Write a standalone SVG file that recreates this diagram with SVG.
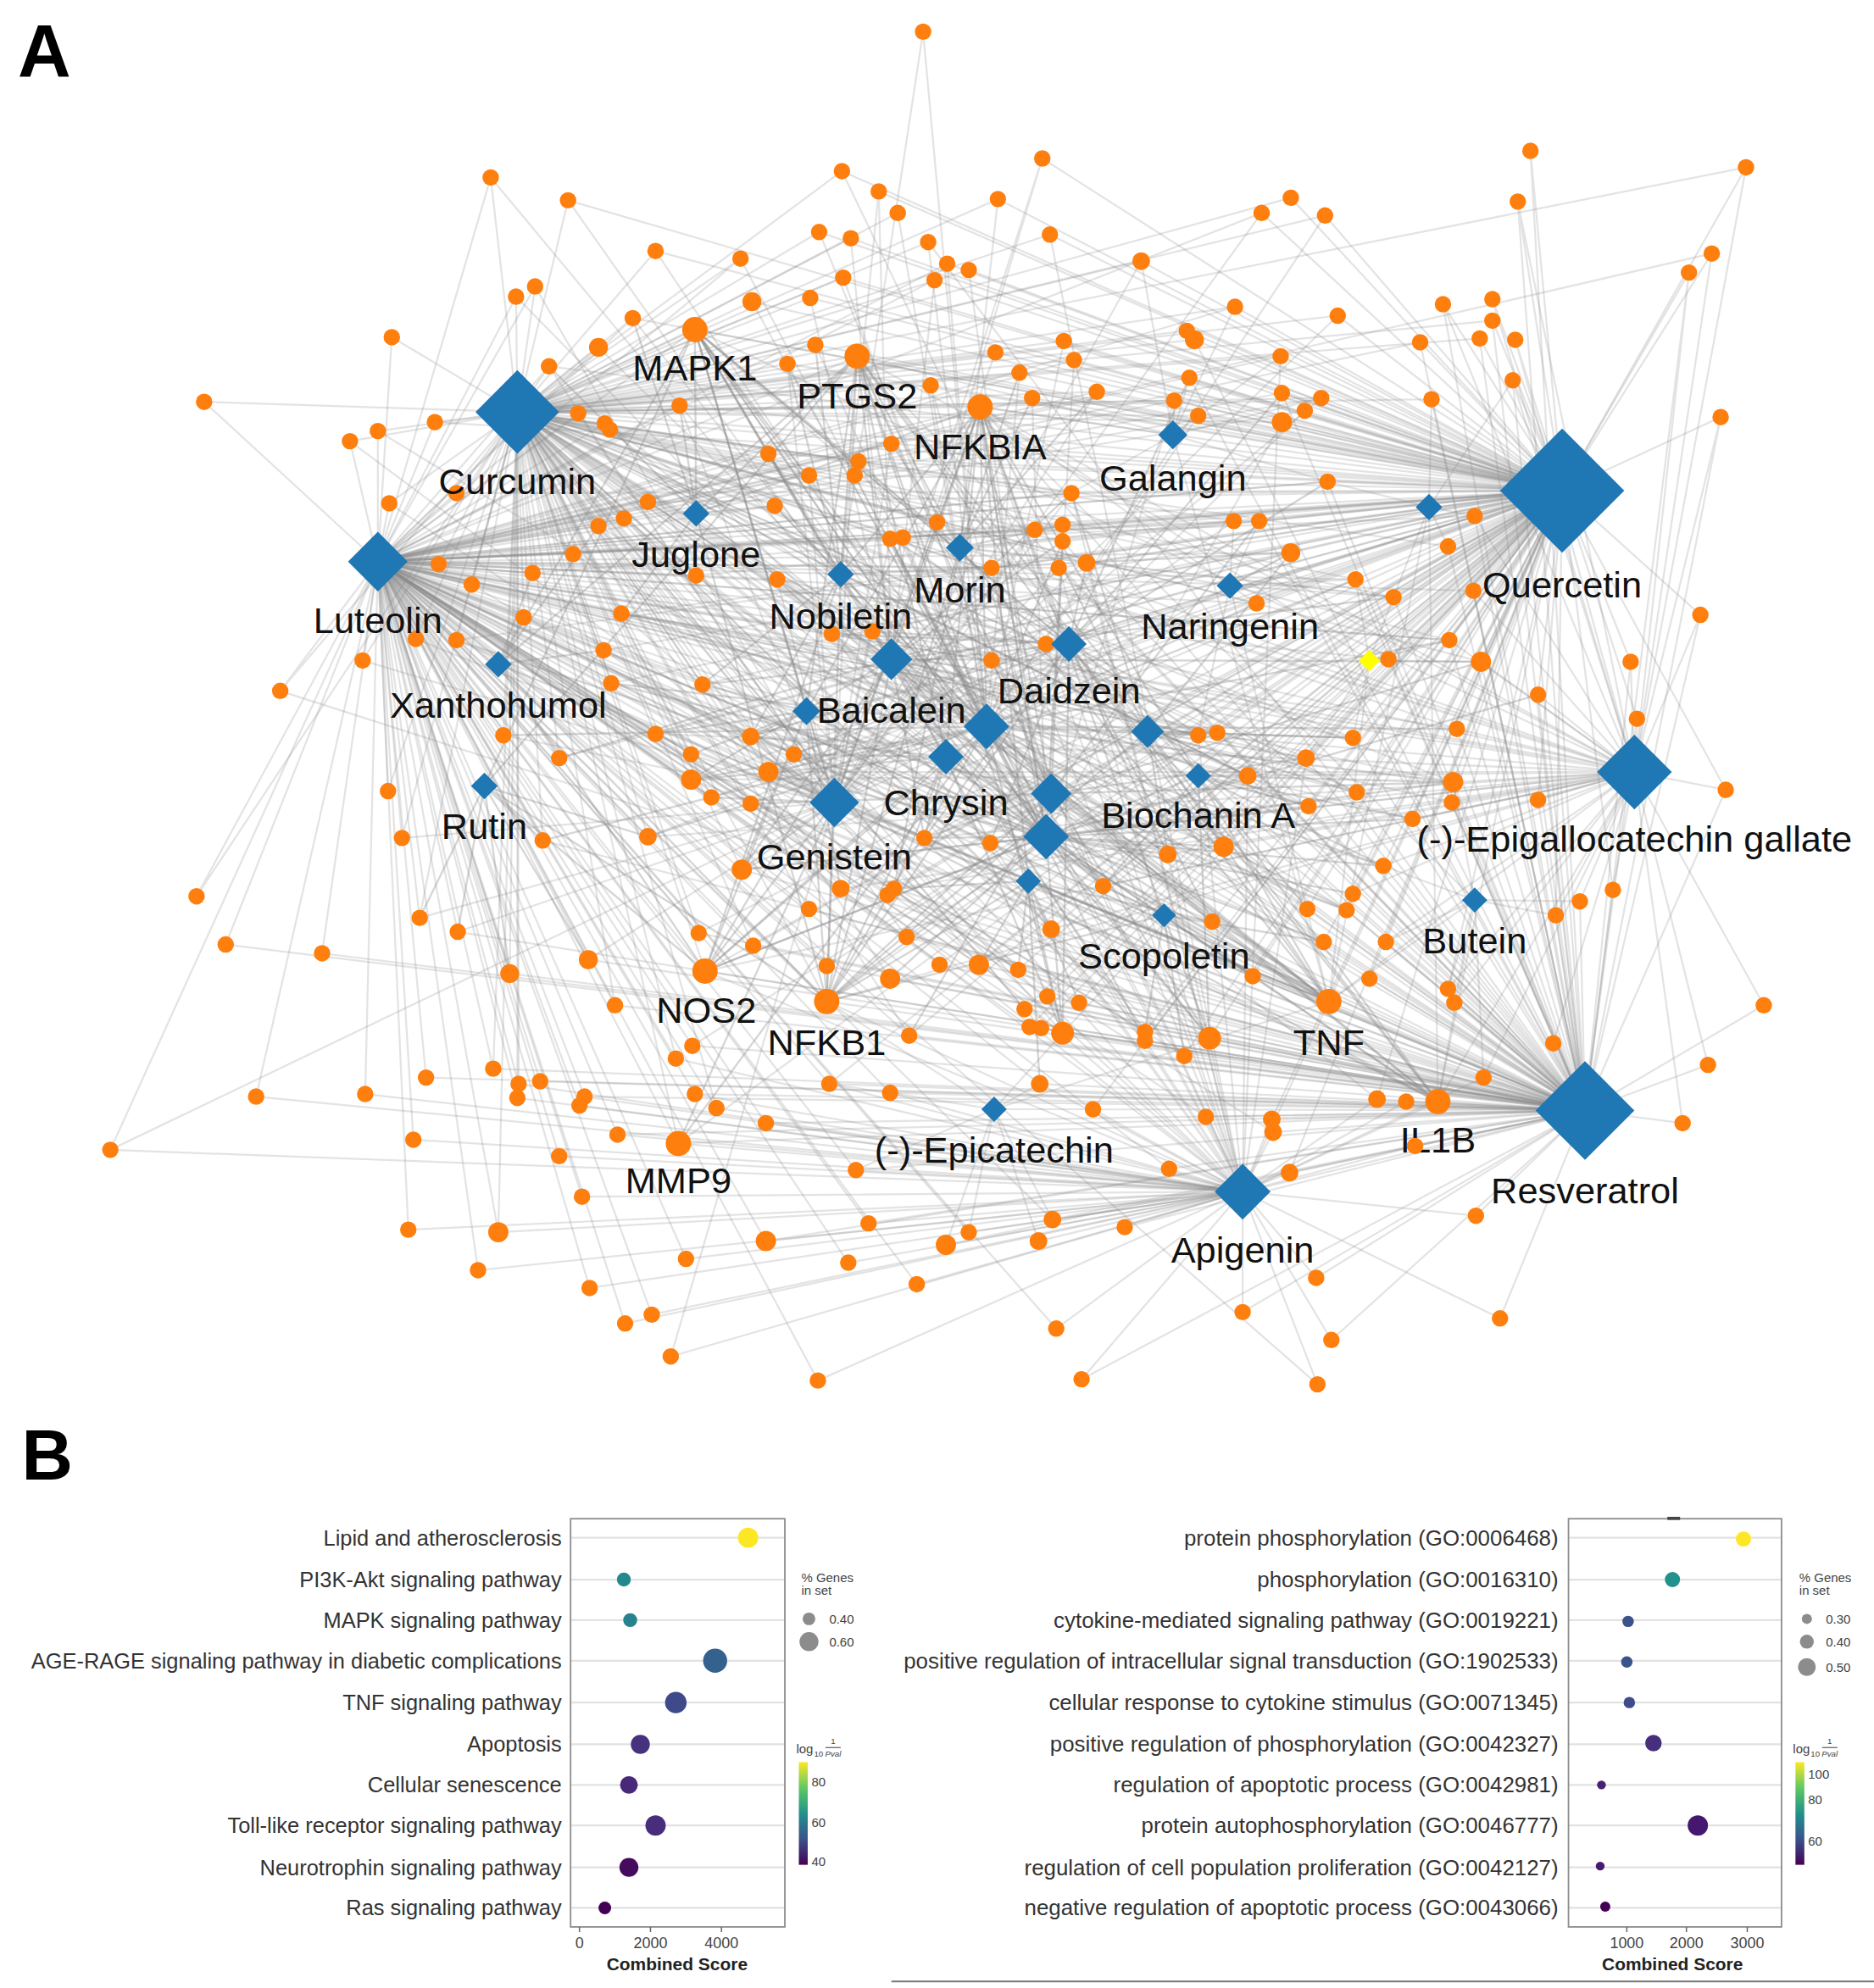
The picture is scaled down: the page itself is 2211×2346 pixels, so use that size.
<svg xmlns="http://www.w3.org/2000/svg" width="2211" height="2346" viewBox="0 0 2211 2346">
<defs>
<style>
.e path{fill:none;stroke:#8c8c8c;stroke-opacity:.24;stroke-width:1.5;stroke-linejoin:round}
.e path.d{stroke-opacity:.36;stroke-width:1.6}
.gn circle{fill:#ff7f0e}
.cp path{fill:#1f77b4}
.lb{font-family:"Liberation Sans",Arial,sans-serif;font-size:29px;fill:#111;text-anchor:middle}
.t{font-family:"Liberation Sans",Arial,sans-serif;fill:#333}
.tl{font-size:17px;text-anchor:end}
.tr{font-size:17.3px;text-anchor:end}
.tk{font-size:12px;text-anchor:middle;fill:#444}
.sm{font-size:10px;fill:#444}
.grid line{stroke:#e2e2e2;stroke-width:1.5}
.box{fill:none;stroke:#8c8c8c;stroke-width:1.2}
</style>
<linearGradient id="vir" x1="0" y1="1" x2="0" y2="0">
<stop offset="0" stop-color="#440154"/><stop offset=".25" stop-color="#3b528b"/><stop offset=".5" stop-color="#21918c"/><stop offset=".75" stop-color="#5ec962"/><stop offset="1" stop-color="#fde725"/>
</linearGradient>
</defs>
<rect width="2211" height="2346" fill="#fff"/>
<g transform="scale(1.496)">
<text x="14" y="60" font-family="Liberation Sans,Arial,sans-serif" font-weight="bold" font-size="58" fill="#000">A</text>
<g id="connectors" class="e">
<path d="M663 453L728 25 778 573"/>
<path d="M408 325L387 140 298 443 387 140 703 520"/>
<path d="M408 325L448 158 1232 387 448 158 703 520"/>
<path d="M408 325L664 135 843 508 664 135 1232 387"/>
<path d="M703 520L693 151 1232 387 693 151 663 453"/>
<path d="M778 573L708 168 408 325"/>
<path d="M1232 387L822 125 703 520 822 125 658 633"/>
<path d="M757 432L787 157 1232 387 787 157 408 325"/>
<path d="M1232 387L1207 119 1250 876"/>
<path d="M1232 387L1377 132 408 325 1377 132 1289 609"/>
<path d="M1232 387L1197 159 1289 609 1197 159 1250 876"/>
<path d="M1232 387L1018 156 408 325"/>
<path d="M1232 387L995 168 658 633 995 168 298 443"/>
<path d="M1232 387L1045 170 778 573 1045 170 408 325"/>
<path d="M408 325L517 198 825 660 517 198 1232 387"/>
<path d="M408 325L584 204 778 573 584 204 298 443"/>
<path d="M408 325L646 183 1232 387 646 183 829 626"/>
<path d="M703 520L671 188 1232 387 671 188 408 325"/>
<path d="M408 325L732 191 778 573 732 191 1250 876"/>
<path d="M1232 387L828 185 408 325 828 185 980 940"/>
<path d="M1232 387L900 206 408 325 900 206 658 633"/>
<path d="M778 573L747 208 1232 387 747 208 298 443"/>
<path d="M408 325L764 213 825 660 764 213 1232 387"/>
<path d="M703 520L737 221 1232 387 737 221 298 443"/>
<path d="M408 325L665 219 825 660 665 219 1232 387"/>
<path d="M408 325L407 234 298 443 407 234 825 660"/>
<path d="M408 325L422 226 298 443 422 226 658 633"/>
<path d="M1232 387L1332 215 1250 876 1332 215 1289 609"/>
<path d="M1232 387L1350 200 298 443 1350 200 1289 609"/>
<path d="M408 325L593 238 1232 387 593 238 778 573"/>
<path d="M408 325L499 251 825 660 499 251 1232 387 499 251 298 443"/>
<path d="M408 325L548 260 298 443 548 260 1232 387 548 260 1250 876 548 260 1289 609 548 260 825 660 548 260 658 633 548 260 843 508"/>
<path d="M408 325L472 274 298 443 472 274 778 573"/>
<path d="M408 325L433 289 298 443 433 289 658 633 433 289 1232 387"/>
<path d="M408 325L309 266 298 443"/>
<path d="M408 325L621 287 825 660 621 287 1232 387 621 287 658 633"/>
<path d="M408 325L643 272 1232 387 643 272 778 573"/>
<path d="M408 325L676 281 298 443 676 281 1232 387 676 281 1250 876 676 281 1289 609 676 281 980 940 676 281 658 633 676 281 905 577"/>
<path d="M408 325L639 235 1232 387 639 235 703 520"/>
<path d="M408 325L734 304 778 573 734 304 1232 387 734 304 829 626"/>
<path d="M1232 387L785 278 408 325 785 278 658 633"/>
<path d="M1232 387L839 269 408 325 839 269 778 573"/>
<path d="M1232 387L847 284 298 443 847 284 825 660"/>
<path d="M1232 387L936 261 408 325"/>
<path d="M1232 387L942 268 408 325 942 268 1250 876"/>
<path d="M1232 387L974 242 408 325 974 242 298 443"/>
<path d="M1232 387L1055 249 408 325 1055 249 658 633"/>
<path d="M1232 387L1138 240 1250 876 1138 240 1289 609"/>
<path d="M1232 387L1177 236 1289 609"/>
<path d="M1232 387L1177 253 1250 876 1177 253 408 325"/>
<path d="M1232 387L1195 268 1289 609"/>
<path d="M1232 387L1167 267 1250 876 1167 267 408 325"/>
<path d="M1232 387L1120 270 298 443 1120 270 1250 876"/>
<path d="M408 325L161 317 298 443"/>
<path d="M408 325L276 348 298 443 276 348 658 633"/>
<path d="M408 325L298 340 298 443 298 340 825 660"/>
<path d="M408 325L343 333 298 443 343 333 1232 387"/>
<path d="M408 325L456 326 298 443 456 326 658 633 456 326 1232 387"/>
<path d="M408 325L477 334 298 443 477 334 1250 876"/>
<path d="M408 325L481 339 778 573 481 339 1289 609"/>
<path d="M408 325L536 320 298 443 536 320 658 633 536 320 1232 387"/>
<path d="M408 325L773 321 298 443 773 321 1232 387 773 321 1250 876 773 321 1289 609 773 321 980 940 773 321 658 633 773 321 825 660"/>
<path d="M1232 387L804 294 408 325 804 294 778 573"/>
<path d="M1232 387L814 314 298 443 814 314 825 660"/>
<path d="M1232 387L865 309 408 325 865 309 658 633"/>
<path d="M1232 387L926 316 408 325 926 316 825 660"/>
<path d="M1232 387L938 298 1250 876"/>
<path d="M1232 387L945 328 408 325 945 328 778 573"/>
<path d="M1232 387L1010 281 408 325 1010 281 980 940"/>
<path d="M1232 387L1011 310 298 443 1011 310 1250 876"/>
<path d="M1232 387L1042 314 408 325 1042 314 658 633"/>
<path d="M1232 387L1029 324 778 573 1029 324 298 443"/>
<path d="M1232 387L1011 333 408 325 1011 333 825 660"/>
<path d="M1232 387L1193 300 1289 609 1193 300 1250 876"/>
<path d="M1232 387L1129 315 408 325 1129 315 1250 876"/>
<path d="M1232 387L1357 329 1289 609 1357 329 1250 876"/>
<path d="M298 443L307 397 408 325 307 397 658 633"/>
<path d="M298 443L360 389 408 325 360 389 1232 387"/>
<path d="M408 325L511 396 298 443 511 396 778 573 511 396 1232 387"/>
<path d="M298 443L492 409 408 325 492 409 825 660"/>
<path d="M298 443L472 415 408 325 472 415 658 633 472 415 1250 876"/>
<path d="M408 325L606 358 298 443 606 358 1232 387 606 358 825 660"/>
<path d="M408 325L703 350 1232 387 703 350 658 633 703 350 298 443"/>
<path d="M408 325L677 364 298 443 677 364 1250 876 677 364 1232 387"/>
<path d="M408 325L674 375 1232 387 674 375 825 660"/>
<path d="M408 325L638 375 298 443 638 375 658 633"/>
<path d="M408 325L611 399 298 443 611 399 778 573 611 399 1250 876"/>
<path d="M1232 387L845 389 408 325 845 389 658 633 845 389 298 443"/>
<path d="M1232 387L1047 380 298 443 1047 380 1250 876"/>
<path d="M1232 387L973 411 298 443 973 411 408 325 973 411 658 633"/>
<path d="M1232 387L993 411 1250 876 993 411 298 443"/>
<path d="M1232 387L1018 436 298 443 1018 436 658 633"/>
<path d="M1232 387L1163 407 1289 609 1163 407 1250 876 1163 407 298 443"/>
<path d="M1232 387L1142 431 1250 876 1142 431 408 325"/>
<path d="M298 443L346 445 408 325"/>
<path d="M298 443L372 461 408 325 372 461 658 633"/>
<path d="M298 443L420 452 408 325 420 452 1232 387"/>
<path d="M298 443L452 437 408 325 452 437 825 660 452 437 1232 387"/>
<path d="M298 443L490 484 408 325 490 484 658 633 490 484 1232 387"/>
<path d="M298 443L549 454 408 325 549 454 825 660 549 454 1232 387"/>
<path d="M298 443L613 457 408 325 613 457 1250 876 613 457 658 633"/>
<path d="M408 325L702 425 1232 387 702 425 658 633 702 425 298 443"/>
<path d="M408 325L712 424 1232 387 712 424 1250 876 712 424 825 660"/>
<path d="M408 325L739 412 298 443 739 412 1232 387"/>
<path d="M1232 387L782 448 408 325 782 448 658 633 782 448 298 443"/>
<path d="M1232 387L816 418 408 325 816 418 298 443 816 418 658 633"/>
<path d="M1232 387L838 414 298 443 838 414 825 660"/>
<path d="M1232 387L838 427 408 325 838 427 1250 876"/>
<path d="M1232 387L835 448 298 443 835 448 658 633 835 448 1250 876"/>
<path d="M1232 387L857 444 408 325 857 444 980 940"/>
<path d="M1232 387L1069 457 1250 876 1069 457 298 443 1069 457 658 633"/>
<path d="M1232 387L1099 471 1250 876 1099 471 408 325"/>
<path d="M1232 387L1162 466 1289 609 1162 466 1250 876"/>
<path d="M1232 387L1341 485 1289 609 1341 485 1250 876"/>
<path d="M298 443L286 521 408 325 286 521 658 633"/>
<path d="M298 443L328 504 408 325 328 504 1250 876"/>
<path d="M298 443L360 505 408 325 360 505 1232 387 360 505 658 633"/>
<path d="M298 443L413 487 408 325 413 487 825 660"/>
<path d="M298 443L476 513 408 325 476 513 658 633 476 513 1232 387"/>
<path d="M408 325L656 500 298 443 656 500 1232 387 656 500 1250 876"/>
<path d="M408 325L688 498 298 443 688 498 1232 387 688 498 658 633"/>
<path d="M1232 387L782 521 408 325 782 521 298 443 782 521 1250 876"/>
<path d="M1232 387L825 508 408 325 825 508 298 443"/>
<path d="M1232 387L1143 505 1250 876 1143 505 1289 609 1143 505 298 443"/>
<path d="M1232 387L1168 522 1289 609 1168 522 1250 876 1168 522 408 325"/>
<path d="M1232 387L1095 520 1250 876 1095 520 298 443"/>
<path d="M1232 387L1286 522 1289 609 1286 522 1250 876"/>
<path d="M1232 387L991 476 298 443 991 476 408 325"/>
<path d="M298 443L221 545 408 325 221 545 1250 876"/>
<path d="M298 443L482 539 408 325 482 539 658 633 482 539 1232 387"/>
<path d="M298 443L554 540 408 325 554 540 1232 387 554 540 1250 876"/>
<path d="M298 443L397 580 408 325 397 580 658 633"/>
<path d="M298 443L517 579 408 325 517 579 1232 387 517 579 1250 876"/>
<path d="M298 443L592 581 408 325 592 581 1232 387 592 581 658 633"/>
<path d="M298 443L626 595 1232 387 626 595 1250 876 626 595 408 325"/>
<path d="M298 443L545 595 408 325 545 595 658 633"/>
<path d="M298 443L545 615 408 325 545 615 1232 387 545 615 1250 876"/>
<path d="M298 443L606 609 408 325 606 609 1232 387 606 609 1250 876"/>
<path d="M298 443L441 598 408 325 441 598 1232 387"/>
<path d="M298 443L306 624 408 325"/>
<path d="M298 443L317 661 408 325 317 661 658 633"/>
<path d="M298 443L428 663 408 325 428 663 1250 876"/>
<path d="M298 443L561 629 408 325 561 629 1232 387"/>
<path d="M298 443L592 634 408 325 592 634 1250 876 592 634 980 940"/>
<path d="M298 443L511 660 408 325 511 660 1232 387 511 660 1289 609"/>
<path d="M298 443L585 686 408 325 585 686 1232 387 585 686 1250 876 585 686 1289 609"/>
<path d="M298 443L663 701 1232 387 663 701 1250 876 663 701 408 325"/>
<path d="M298 443L705 701 408 325 705 701 1232 387 705 701 980 940"/>
<path d="M298 443L700 706 1232 387 700 706 1250 876"/>
<path d="M298 443L638 717 408 325 638 717 1250 876"/>
<path d="M298 443L729 661 1232 387 729 661 408 325 729 661 1250 876"/>
<path d="M1232 387L781 665 298 443 781 665 408 325 781 665 1250 876"/>
<path d="M1232 387L945 580 298 443 945 580 1250 876 945 580 408 325"/>
<path d="M1232 387L960 578 408 325 960 578 1250 876"/>
<path d="M1232 387L1067 582 1250 876 1067 582 298 443"/>
<path d="M1232 387L1030 598 1250 876 1030 598 408 325 1030 598 298 443"/>
<path d="M1232 387L1149 575 1250 876 1149 575 1289 609 1149 575 298 443"/>
<path d="M1232 387L1213 548 1289 609 1213 548 1250 876"/>
<path d="M1232 387L1291 567 1289 609 1291 567 1250 876"/>
<path d="M1232 387L984 612 1250 876 984 612 298 443 984 612 408 325"/>
<path d="M1232 387L1070 625 1250 876 1070 625 298 443"/>
<path d="M1232 387L1146 617 1250 876 1146 617 1289 609 1146 617 408 325 1146 617 298 443"/>
<path d="M1232 387L1145 633 1250 876 1145 633 1289 609"/>
<path d="M1289 609L1213 631 1250 876 1213 631 1232 387"/>
<path d="M1289 609L1361 623 1232 387 1361 623 1250 876"/>
<path d="M1232 387L1032 636 1250 876 1032 636 298 443 1032 636 408 325"/>
<path d="M1232 387L1114 646 1250 876 1114 646 1289 609"/>
<path d="M1232 387L921 674 1250 876 921 674 408 325 921 674 298 443"/>
<path d="M1232 387L965 668 1250 876 965 668 298 443 965 668 408 325"/>
<path d="M1232 387L1091 683 1250 876 1091 683 1289 609"/>
<path d="M1232 387L870 699 1250 876 870 699 298 443"/>
<path d="M1250 876L1067 705 1232 387 1067 705 1289 609"/>
<path d="M1250 876L1062 718 1232 387 1062 718 298 443"/>
<path d="M1250 876L1031 717 1232 387 1031 717 408 325"/>
<path d="M1250 876L956 727 1232 387 956 727 298 443"/>
<path d="M1250 876L1227 722 1289 609 1227 722 1232 387"/>
<path d="M1250 876L1246 711 1289 609"/>
<path d="M1250 876L1272 702 1289 609 1272 702 1232 387"/>
<path d="M1250 876L829 733 1232 387 829 733 298 443 829 733 408 325"/>
<path d="M1250 876L1044 743 1232 387 1044 743 298 443"/>
<path d="M1250 876L1093 743 1232 387 1093 743 1289 609"/>
<path d="M298 443L155 707 408 325"/>
<path d="M298 443L178 745 1250 876"/>
<path d="M298 443L254 752 1250 876"/>
<path d="M298 443L331 724 408 325 331 724 658 633"/>
<path d="M298 443L361 735 1250 876 361 735 658 633"/>
<path d="M298 443L402 768 408 325 402 768 1250 876"/>
<path d="M298 443L464 757 658 633 464 757 1250 876"/>
<path d="M298 443L551 736 408 325 551 736 1232 387 551 736 1250 876"/>
<path d="M298 443L594 746 1250 876 594 746 408 325 594 746 1232 387"/>
<path d="M298 443L556 766 408 325 556 766 1232 387 556 766 1250 876 556 766 1289 609 556 766 980 940"/>
<path d="M298 443L652 762 1250 876 652 762 1232 387"/>
<path d="M298 443L715 739 1250 876 715 739 1232 387 715 739 408 325"/>
<path d="M298 443L702 772 1250 876 702 772 408 325"/>
<path d="M298 443L741 761 1250 876 741 761 1232 387"/>
<path d="M1250 876L772 761 1232 387 772 761 298 443"/>
<path d="M1250 876L803 765 1232 387 803 765 298 443"/>
<path d="M1250 876L988 770 1232 387 988 770 298 443"/>
<path d="M1250 876L1080 772 1232 387"/>
<path d="M1250 876L1142 780 1232 387 1142 780 1289 609"/>
<path d="M1250 876L1147 791 1289 609"/>
<path d="M1250 876L1048 790 1232 387 1048 790 298 443 1048 790 408 325 1048 790 1289 609 1048 790 980 940"/>
<path d="M1250 876L1391 793 1289 609"/>
<path d="M298 443L485 793 408 325 485 793 1250 876"/>
<path d="M298 443L546 825 1250 876 546 825 1232 387"/>
<path d="M298 443L533 835 408 325 533 835 980 940"/>
<path d="M298 443L652 790 408 325 652 790 1232 387 652 790 1250 876 652 790 1289 609 652 790 980 940"/>
<path d="M298 443L717 817 1250 876 717 817 1232 387"/>
<path d="M1250 876L826 786 1232 387 826 786 298 443"/>
<path d="M1250 876L808 796 1232 387 808 796 408 325"/>
<path d="M1250 876L851 791 1232 387 851 791 298 443"/>
<path d="M1250 876L812 810 298 443 812 810 1232 387"/>
<path d="M1250 876L821 811 1232 387 821 811 408 325"/>
<path d="M1250 876L838 815 1232 387 838 815 298 443 838 815 408 325"/>
<path d="M1250 876L903 814 1232 387 903 814 298 443"/>
<path d="M1250 876L903 821 1232 387 903 821 408 325"/>
<path d="M1250 876L954 819 1232 387 954 819 298 443 954 819 408 325"/>
<path d="M1250 876L934 833 1232 387 934 833 298 443"/>
<path d="M1250 876L1225 823 1289 609"/>
<path d="M1250 876L1347 840 1289 609"/>
<path d="M298 443L336 850 1250 876"/>
<path d="M298 443L389 843 1250 876 389 843 408 325"/>
<path d="M298 443L409 855 408 325 409 855 980 940"/>
<path d="M298 443L426 853 1250 876"/>
<path d="M298 443L408 866 980 940 408 866 408 325"/>
<path d="M298 443L461 865 1250 876 461 865 980 940"/>
<path d="M298 443L457 872 980 940"/>
<path d="M298 443L548 863 980 940 548 863 1250 876"/>
<path d="M298 443L565 874 980 940 565 874 408 325"/>
<path d="M298 443L654 855 980 940 654 855 1250 876 654 855 1232 387"/>
<path d="M298 443L702 862 980 940 702 862 1250 876"/>
<path d="M298 443L604 886 980 940 604 886 1250 876"/>
<path d="M1250 876L820 855 980 940 820 855 298 443"/>
<path d="M1250 876L862 875 980 940 862 875 1232 387"/>
<path d="M1250 876L951 881 980 940 951 881 298 443"/>
<path d="M1250 876L1003 883 980 940 1003 883 1232 387"/>
<path d="M1250 876L1004 893 980 940 1004 893 298 443"/>
<path d="M1250 876L1086 867 980 940 1086 867 1232 387"/>
<path d="M1250 876L1109 869 980 940"/>
<path d="M1250 876L1134 869 980 940 1134 869 1232 387 1134 869 298 443 1134 869 1289 609"/>
<path d="M1250 876L1170 850 980 940 1170 850 1289 609"/>
<path d="M1250 876L1327 886 1289 609"/>
<path d="M298 443L202 865 980 940"/>
<path d="M298 443L288 863 980 940"/>
<path d="M298 443L87 907 658 633 87 907 980 940"/>
<path d="M298 443L326 899 980 940"/>
<path d="M298 443L441 912 980 940"/>
<path d="M298 443L487 895 980 940 487 895 1250 876"/>
<path d="M298 443L535 902 980 940 535 902 1250 876 535 902 1232 387 535 902 408 325"/>
<path d="M980 940L675 923 298 443 675 923 1250 876"/>
<path d="M1250 876L1116 904 980 940"/>
<path d="M980 940L922 922 1250 876 922 922 298 443"/>
<path d="M980 940L1017 925 1250 876 1017 925 1232 387"/>
<path d="M1250 876L1164 959 980 940"/>
<path d="M980 940L459 944 298 443"/>
<path d="M298 443L322 970 980 940"/>
<path d="M298 443L393 972 980 940 393 972 408 325"/>
<path d="M980 940L604 979 298 443 604 979 1250 876"/>
<path d="M980 940L377 1002 298 443"/>
<path d="M980 940L541 993 298 443"/>
<path d="M980 940L669 996 298 443"/>
<path d="M980 940L465 1016 298 443"/>
<path d="M980 940L723 1013 298 443"/>
<path d="M980 940L493 1044 298 443"/>
<path d="M980 940L514 1037 298 443"/>
<path d="M980 940L529 1070 658 633"/>
<path d="M980 940L685 965 298 443 685 965 1250 876"/>
<path d="M980 940L746 982 1250 876"/>
<path d="M980 940L764 972 298 443"/>
<path d="M980 940L830 962 1250 876 830 962 298 443"/>
<path d="M980 940L819 979 1250 876"/>
<path d="M980 940L887 968 1250 876"/>
<path d="M980 940L833 1048 298 443"/>
<path d="M980 940L645 1089 298 443"/>
<path d="M980 940L853 1088 1250 876"/>
<path d="M980 940L980 1035 1250 876"/>
<path d="M980 940L1038 1008 1250 876"/>
<path d="M980 940L1050 1057 1250 876"/>
<path d="M980 940L1039 1092 298 443"/>
<path d="M1250 876L1183 1040 980 940"/>
<path class="d" d="M825 660L773 321 825 660 548 260 825 660 1048 790 825 660 652 790 825 660 556 766 825 660 954 819 825 660 838 815 825 660 921 674 825 660 965 668 825 660 1032 636 825 660 729 661 825 660 585 686 825 660 606 609 825 660 1146 617 825 660 1134 869 825 660 702 772 825 660 870 699 825 660 984 612 825 660 1213 548 825 660 476 513 825 660 360 505"/>
<path class="d" d="M825 660L1091 683 825 660 1067 705 825 660 1114 646 825 660 1044 743 825 660 988 770 825 660 782 448 825 660 702 425 825 660 613 457 825 660 656 500"/>
<path class="d" d="M778 573L676 281 778 573 773 321 778 573 548 260 778 573 1048 790 778 573 652 790 778 573 556 766 778 573 945 580 778 573 1067 582 778 573 838 427 778 573 611 399 778 573 490 484 778 573 1143 505 778 573 535 902 778 573 838 815 778 573 1149 575 778 573 702 425 778 573 428 663 778 573 870 699 778 573 991 476 778 573 1069 457"/>
<path class="d" d="M778 573L1146 617 778 573 1091 683 778 573 1062 718 778 573 956 727 778 573 903 821 778 573 606 609 778 573 545 615 778 573 511 660 778 573 397 580 778 573 482 539"/>
<path class="d" d="M703 520L676 281 703 520 773 321 703 520 548 260 703 520 652 790 703 520 1048 790 703 520 556 766 703 520 1134 869 703 520 606 358 703 520 845 389 703 520 1018 436 703 520 511 396 703 520 960 578 703 520 1032 636 703 520 585 686 703 520 545 615 703 520 782 448 703 520 1099 471 703 520 1168 522 703 520 903 814"/>
<path class="d" d="M703 520L954 819 703 520 921 674 703 520 870 699 703 520 729 661 703 520 781 665 703 520 838 427 703 520 945 580 703 520 613 457 703 520 490 484 703 520 441 598"/>
<path class="d" d="M829 626L773 321 829 626 676 281 829 626 548 260 829 626 1048 790 829 626 652 790 829 626 954 819 829 626 1134 869 829 626 1146 617 829 626 1030 598 829 626 729 661 829 626 592 634 829 626 838 427 829 626 993 411 829 626 1062 718 829 626 717 817 829 626 1168 522 829 626 482 539"/>
<path class="d" d="M843 508L773 321 843 508 676 281 843 508 548 260 843 508 1048 790 843 508 652 790 843 508 1134 869 843 508 938 298 843 508 1011 310 843 508 1047 380 843 508 1163 407 843 508 857 444 843 508 945 580 843 508 1070 625 843 508 626 595 843 508 554 540 843 508 956 727"/>
<path class="d" d="M843 508L702 425 843 508 656 500 843 508 688 498 843 508 592 581 843 508 729 661 843 508 781 665 843 508 921 674 843 508 965 668 843 508 838 815"/>
<path class="d" d="M757 432L676 281 757 432 773 321 757 432 548 260 757 432 1048 790 757 432 652 790 757 432 804 294 757 432 814 314 757 432 865 309 757 432 703 350 757 432 838 414 757 432 973 411 757 432 1099 471 757 432 705 701"/>
<path class="d" d="M663 453L676 281 663 453 773 321 663 453 548 260 663 453 652 790 663 453 556 766 663 453 606 358 663 453 621 287 663 453 643 272 663 453 1018 436 663 453 782 448 663 453 554 540 663 453 592 581 663 453 984 612"/>
<path class="d" d="M549 405L548 260 549 405 676 281 549 405 773 321 549 405 499 251 549 405 536 320 549 405 433 289 549 405 1048 790 549 405 652 790 549 405 490 484 549 405 611 399"/>
<path class="d" d="M393 524L548 260 393 524 676 281 393 524 652 790 393 524 556 766 393 524 472 415 393 524 420 452 393 524 476 513 393 524 441 598 393 524 413 487 393 524 1048 790"/>
<path class="d" d="M382 620L548 260 382 620 652 790 382 620 556 766 382 620 428 663 382 620 402 768 382 620 361 735 382 620 331 724 382 620 464 757 382 620 511 660 382 620 676 281"/>
<path class="d" d="M905 577L773 321 905 577 1048 790 905 577 652 790 905 577 1134 869 905 577 945 580 905 577 960 578 905 577 984 612 905 577 1030 598 905 577 1067 582 905 577 1070 625 905 577 921 674 905 577 965 668 905 577 845 389 905 577 1018 436"/>
<path class="d" d="M945 612L773 321 945 612 676 281 945 612 1048 790 945 612 954 819 945 612 1134 869 945 612 1032 636 945 612 1114 646 945 612 1091 683 945 612 1031 717 945 612 1146 617 945 612 870 699 945 612 556 766"/>
<path class="d" d="M746 597L676 281 746 597 773 321 746 597 548 260 746 597 652 790 746 597 556 766 746 597 1048 790 746 597 729 661 746 597 705 701 746 597 626 595 746 597 592 581 746 597 545 615 746 597 838 815"/>
<path class="d" d="M811 695L773 321 811 695 676 281 811 695 652 790 811 695 1048 790 811 695 1134 869 811 695 829 733 811 695 803 765 811 695 772 761 811 695 851 791 811 695 838 815 811 695 820 855 811 695 956 727 811 695 705 701"/>
<path class="d" d="M636 561L676 281 636 561 773 321 636 561 548 260 636 561 652 790 636 561 556 766 636 561 1048 790 636 561 554 540 636 561 592 581 636 561 517 579 636 561 545 595 636 561 585 686 636 561 663 701"/>
<path class="d" d="M918 722L773 321 918 722 1048 790 918 722 1134 869 918 722 954 819 918 722 903 814 918 722 934 833 918 722 988 770 918 722 956 727 918 722 870 699 918 722 1044 743 918 722 652 790"/>
<path d="M1163 710L1048 790 1163 710 1134 869 1163 710 1142 780 1163 710 1147 791 1163 710 1093 743 1163 710 1227 722 1163 710 1246 711 1163 710 1091 683 1163 710 1146 617 1163 710 773 321 1163 710 1170 850"/>
<path d="M784 875L652 790 784 875 1048 790 784 875 820 855 784 875 862 875 784 875 830 962 784 875 819 979 784 875 764 972 784 875 746 982 784 875 702 862 784 875 675 923 784 875 654 855 784 875 838 815"/>
<path d="M925 343L773 321 925 343 676 281 925 343 926 316 925 343 938 298 925 343 945 328 925 343 974 242 925 343 900 206 925 343 1010 281 925 343 1042 314 925 343 1047 380 925 343 845 389 925 343 1048 790"/>
<path d="M970 462L773 321 970 462 1048 790 970 462 993 411 970 462 973 411 970 462 1018 436 970 462 991 476 970 462 1069 457 970 462 1099 471 970 462 945 580 970 462 1143 505 970 462 857 444"/>
<path d="M1080 521L1048 790 1080 521 773 321 1080 521 1069 457 1080 521 1099 471 1080 521 1095 520 1080 521 1143 505 1080 521 1067 582 1080 521 1030 598 1080 521 1168 522"/>
<path d="M1127 400L1048 790 1127 400 1134 869 1127 400 1163 407 1127 400 1142 431 1127 400 1129 315 1127 400 1099 471 1127 400 1193 300 1127 400 1047 380"/>
<path class="d" d="M658 633L548 260 658 633 773 321 658 633 1048 790 658 633 1134 869 658 633 556 766 658 633 652 790 658 633 535 902 658 633 585 686 658 633 729 661 658 633 561 629 658 633 606 609"/>
<path d="M1289 609L606 609 1289 609 545 615 1289 609 592 581 1289 609 517 579 1289 609 663 701 1289 609 729 661 1289 609 781 665 1289 609 705 701 1289 609 945 580 1289 609 984 612 1289 609 921 674 1289 609 965 668 1289 609 870 699 1289 609 829 733 1289 609 702 425 1289 609 782 448 1289 609 835 448 1289 609 656 500 1289 609 688 498 1289 609 782 521 1289 609 613 457 1289 609 490 484"/>
<path d="M980 940L702 425 980 940 782 448 980 940 835 448 980 940 606 358 980 940 677 364 980 940 845 389 980 940 656 500 980 940 688 498 980 940 782 521 980 940 825 508 980 940 945 580 980 940 592 581 980 940 626 595 980 940 729 661 980 940 781 665 980 940 663 701 980 940 1030 598 980 940 984 612 980 940 921 674"/>
<path d="M408 325L1069 457 408 325 1067 582 408 325 1070 625 408 325 1149 575 408 325 1062 718 408 325 1044 743 408 325 988 770 408 325 903 814 408 325 934 833 408 325 1086 867 408 325 870 699 408 325 956 727 408 325 772 761 408 325 803 765 408 325 717 817"/>
<path d="M298 443L845 389 298 443 1047 380 298 443 926 316 298 443 865 309 298 443 1042 314 298 443 1010 281 298 443 1091 683 298 443 1114 646 298 443 1145 633 298 443 1143 505 298 443 1162 466"/>
</g>
<g id="genes" class="gn">
<g id="MAPK1"><circle cx="548" cy="260" r="10"/><text class="lb" x="548" y="300">MAPK1</text></g>
<g id="PTGS2"><circle cx="676" cy="281" r="10"/><text class="lb" x="676" y="322">PTGS2</text></g>
<g id="NFKBIA"><circle cx="773" cy="321" r="10"/><text class="lb" x="773" y="362">NFKBIA</text></g>
<g id="NOS2"><circle cx="556" cy="766" r="10"/><text class="lb" x="557" y="807">NOS2</text></g>
<g id="NFKB1"><circle cx="652" cy="790" r="10"/><text class="lb" x="652" y="832">NFKB1</text></g>
<g id="TNF"><circle cx="1048" cy="790" r="10"/><text class="lb" x="1048" y="832">TNF</text></g>
<g id="IL1B"><circle cx="1134" cy="869" r="10"/><text class="lb" x="1134" y="909">IL1B</text></g>
<g id="MMP9"><circle cx="535" cy="902" r="10"/><text class="lb" x="535" y="941">MMP9</text></g>
<g id="n1"><circle cx="728" cy="25" r="6.5"/></g>
<g id="n2"><circle cx="387" cy="140" r="6.5"/></g>
<g id="n3"><circle cx="448" cy="158" r="6.5"/></g>
<g id="n4"><circle cx="664" cy="135" r="6.5"/></g>
<g id="n5"><circle cx="693" cy="151" r="6.5"/></g>
<g id="n6"><circle cx="708" cy="168" r="6.5"/></g>
<g id="n7"><circle cx="822" cy="125" r="6.5"/></g>
<g id="n8"><circle cx="787" cy="157" r="6.5"/></g>
<g id="n9"><circle cx="1207" cy="119" r="6.5"/></g>
<g id="n10"><circle cx="1377" cy="132" r="6.5"/></g>
<g id="n11"><circle cx="1197" cy="159" r="6.5"/></g>
<g id="n12"><circle cx="1018" cy="156" r="6.5"/></g>
<g id="n13"><circle cx="995" cy="168" r="6.5"/></g>
<g id="n14"><circle cx="1045" cy="170" r="6.5"/></g>
<g id="n15"><circle cx="517" cy="198" r="6.5"/></g>
<g id="n16"><circle cx="584" cy="204" r="6.5"/></g>
<g id="n17"><circle cx="646" cy="183" r="6.5"/></g>
<g id="n18"><circle cx="671" cy="188" r="6.5"/></g>
<g id="n19"><circle cx="732" cy="191" r="6.5"/></g>
<g id="n20"><circle cx="828" cy="185" r="6.5"/></g>
<g id="n21"><circle cx="900" cy="206" r="7"/></g>
<g id="n22"><circle cx="747" cy="208" r="6.5"/></g>
<g id="n23"><circle cx="764" cy="213" r="6.5"/></g>
<g id="n24"><circle cx="737" cy="221" r="6.5"/></g>
<g id="n25"><circle cx="665" cy="219" r="6.5"/></g>
<g id="n26"><circle cx="407" cy="234" r="6.5"/></g>
<g id="n27"><circle cx="422" cy="226" r="6.5"/></g>
<g id="n28"><circle cx="1332" cy="215" r="6.5"/></g>
<g id="n29"><circle cx="1350" cy="200" r="6.5"/></g>
<g id="n30"><circle cx="593" cy="238" r="7.5"/></g>
<g id="n31"><circle cx="499" cy="251" r="6.5"/></g>
<g id="n33"><circle cx="472" cy="274" r="7.5"/></g>
<g id="n34"><circle cx="433" cy="289" r="6.5"/></g>
<g id="n35"><circle cx="309" cy="266" r="6.5"/></g>
<g id="n36"><circle cx="621" cy="287" r="6.5"/></g>
<g id="n37"><circle cx="643" cy="272" r="6.5"/></g>
<g id="n39"><circle cx="639" cy="235" r="6.5"/></g>
<g id="n40"><circle cx="734" cy="304" r="6.5"/></g>
<g id="n41"><circle cx="785" cy="278" r="6.5"/></g>
<g id="n42"><circle cx="839" cy="269" r="6.5"/></g>
<g id="n43"><circle cx="847" cy="284" r="6.5"/></g>
<g id="n44"><circle cx="936" cy="261" r="6.5"/></g>
<g id="n45"><circle cx="942" cy="268" r="7.5"/></g>
<g id="n46"><circle cx="974" cy="242" r="6.5"/></g>
<g id="n47"><circle cx="1055" cy="249" r="6.5"/></g>
<g id="n48"><circle cx="1138" cy="240" r="6.5"/></g>
<g id="n49"><circle cx="1177" cy="236" r="6.5"/></g>
<g id="n50"><circle cx="1177" cy="253" r="6.5"/></g>
<g id="n51"><circle cx="1195" cy="268" r="6.5"/></g>
<g id="n52"><circle cx="1167" cy="267" r="6.5"/></g>
<g id="n53"><circle cx="1120" cy="270" r="6.5"/></g>
<g id="n54"><circle cx="161" cy="317" r="6.5"/></g>
<g id="n55"><circle cx="276" cy="348" r="6.5"/></g>
<g id="n56"><circle cx="298" cy="340" r="6.5"/></g>
<g id="n57"><circle cx="343" cy="333" r="6.5"/></g>
<g id="n58"><circle cx="456" cy="326" r="6.5"/></g>
<g id="n59"><circle cx="477" cy="334" r="6.5"/></g>
<g id="n60"><circle cx="481" cy="339" r="6.5"/></g>
<g id="n61"><circle cx="536" cy="320" r="6.5"/></g>
<g id="n64"><circle cx="804" cy="294" r="6.5"/></g>
<g id="n65"><circle cx="814" cy="314" r="6.5"/></g>
<g id="n66"><circle cx="865" cy="309" r="6.5"/></g>
<g id="n67"><circle cx="926" cy="316" r="6.5"/></g>
<g id="n68"><circle cx="938" cy="298" r="6.5"/></g>
<g id="n69"><circle cx="945" cy="328" r="6.5"/></g>
<g id="n70"><circle cx="1010" cy="281" r="6.5"/></g>
<g id="n71"><circle cx="1011" cy="310" r="6.5"/></g>
<g id="n72"><circle cx="1042" cy="314" r="6.5"/></g>
<g id="n73"><circle cx="1029" cy="324" r="6.5"/></g>
<g id="n74"><circle cx="1011" cy="333" r="8"/></g>
<g id="n75"><circle cx="1193" cy="300" r="6.5"/></g>
<g id="n76"><circle cx="1129" cy="315" r="6.5"/></g>
<g id="n77"><circle cx="1357" cy="329" r="6.5"/></g>
<g id="n78"><circle cx="307" cy="397" r="6.5"/></g>
<g id="n79"><circle cx="360" cy="389" r="6.5"/></g>
<g id="n81"><circle cx="511" cy="396" r="6.5"/></g>
<g id="n82"><circle cx="492" cy="409" r="6.5"/></g>
<g id="n83"><circle cx="472" cy="415" r="6.5"/></g>
<g id="n84"><circle cx="606" cy="358" r="6.5"/></g>
<g id="n85"><circle cx="703" cy="350" r="6.5"/></g>
<g id="n86"><circle cx="677" cy="364" r="6.5"/></g>
<g id="n87"><circle cx="674" cy="375" r="6.5"/></g>
<g id="n88"><circle cx="638" cy="375" r="6.5"/></g>
<g id="n89"><circle cx="611" cy="399" r="6.5"/></g>
<g id="n90"><circle cx="845" cy="389" r="6.5"/></g>
<g id="n91"><circle cx="1047" cy="380" r="6.5"/></g>
<g id="n92"><circle cx="973" cy="411" r="6.5"/></g>
<g id="n93"><circle cx="993" cy="411" r="6.5"/></g>
<g id="n94"><circle cx="1018" cy="436" r="7.5"/></g>
<g id="n95"><circle cx="1163" cy="407" r="6.5"/></g>
<g id="n96"><circle cx="1142" cy="431" r="6.5"/></g>
<g id="n97"><circle cx="346" cy="445" r="6.5"/></g>
<g id="n98"><circle cx="372" cy="461" r="6.5"/></g>
<g id="n99"><circle cx="420" cy="452" r="6.5"/></g>
<g id="n100"><circle cx="452" cy="437" r="6.5"/></g>
<g id="n101"><circle cx="490" cy="484" r="6.5"/></g>
<g id="n102"><circle cx="549" cy="454" r="6.5"/></g>
<g id="n103"><circle cx="613" cy="457" r="6.5"/></g>
<g id="n104"><circle cx="702" cy="425" r="6.5"/></g>
<g id="n105"><circle cx="712" cy="424" r="6.5"/></g>
<g id="n106"><circle cx="739" cy="412" r="6.5"/></g>
<g id="n107"><circle cx="782" cy="448" r="6.5"/></g>
<g id="n108"><circle cx="816" cy="418" r="6.5"/></g>
<g id="n109"><circle cx="838" cy="414" r="6.5"/></g>
<g id="n110"><circle cx="838" cy="427" r="6.5"/></g>
<g id="n111"><circle cx="835" cy="448" r="6.5"/></g>
<g id="n112"><circle cx="857" cy="444" r="7"/></g>
<g id="n113"><circle cx="1069" cy="457" r="6.5"/></g>
<g id="n114"><circle cx="1099" cy="471" r="6.5"/></g>
<g id="n115"><circle cx="1162" cy="466" r="6.5"/></g>
<g id="n116"><circle cx="1341" cy="485" r="6.5"/></g>
<g id="n117"><circle cx="286" cy="521" r="6.5"/></g>
<g id="n118"><circle cx="328" cy="504" r="6.5"/></g>
<g id="n119"><circle cx="360" cy="505" r="6.5"/></g>
<g id="n120"><circle cx="413" cy="487" r="6.5"/></g>
<g id="n121"><circle cx="476" cy="513" r="6.5"/></g>
<g id="n122"><circle cx="656" cy="500" r="6.5"/></g>
<g id="n123"><circle cx="688" cy="498" r="6.5"/></g>
<g id="n124"><circle cx="782" cy="521" r="6.5"/></g>
<g id="n125"><circle cx="825" cy="508" r="6.5"/></g>
<g id="n126"><circle cx="1143" cy="505" r="6.5"/></g>
<g id="n127"><circle cx="1168" cy="522" r="8"/></g>
<g id="n128"><circle cx="1095" cy="520" r="6.5"/></g>
<g id="n129"><circle cx="1286" cy="522" r="6.5"/></g>
<g id="n130"><circle cx="991" cy="476" r="6.5"/></g>
<g id="n131"><circle cx="221" cy="545" r="6.5"/></g>
<g id="n132"><circle cx="482" cy="539" r="6.5"/></g>
<g id="n133"><circle cx="554" cy="540" r="6.5"/></g>
<g id="n134"><circle cx="397" cy="580" r="6.5"/></g>
<g id="n135"><circle cx="517" cy="579" r="6.5"/></g>
<g id="n136"><circle cx="592" cy="581" r="7"/></g>
<g id="n137"><circle cx="626" cy="595" r="6.5"/></g>
<g id="n138"><circle cx="545" cy="595" r="6.5"/></g>
<g id="n139"><circle cx="545" cy="615" r="8"/></g>
<g id="n140"><circle cx="606" cy="609" r="8"/></g>
<g id="n141"><circle cx="441" cy="598" r="6.5"/></g>
<g id="n142"><circle cx="306" cy="624" r="6.5"/></g>
<g id="n143"><circle cx="317" cy="661" r="6.5"/></g>
<g id="n144"><circle cx="428" cy="663" r="6.5"/></g>
<g id="n145"><circle cx="561" cy="629" r="6.5"/></g>
<g id="n146"><circle cx="592" cy="634" r="6.5"/></g>
<g id="n147"><circle cx="511" cy="660" r="7"/></g>
<g id="n148"><circle cx="585" cy="686" r="8"/></g>
<g id="n149"><circle cx="663" cy="701" r="7"/></g>
<g id="n150"><circle cx="705" cy="701" r="6.5"/></g>
<g id="n151"><circle cx="700" cy="706" r="6.5"/></g>
<g id="n152"><circle cx="638" cy="717" r="6.5"/></g>
<g id="n153"><circle cx="729" cy="661" r="6.5"/></g>
<g id="n154"><circle cx="781" cy="665" r="6.5"/></g>
<g id="n155"><circle cx="945" cy="580" r="6.5"/></g>
<g id="n156"><circle cx="960" cy="578" r="6.5"/></g>
<g id="n157"><circle cx="1067" cy="582" r="6.5"/></g>
<g id="n158"><circle cx="1030" cy="598" r="7"/></g>
<g id="n159"><circle cx="1149" cy="575" r="6.5"/></g>
<g id="n160"><circle cx="1213" cy="548" r="6.5"/></g>
<g id="n161"><circle cx="1291" cy="567" r="6.5"/></g>
<g id="n162"><circle cx="984" cy="612" r="7"/></g>
<g id="n163"><circle cx="1070" cy="625" r="6.5"/></g>
<g id="n164"><circle cx="1146" cy="617" r="8"/></g>
<g id="n165"><circle cx="1145" cy="633" r="6.5"/></g>
<g id="n166"><circle cx="1213" cy="631" r="6.5"/></g>
<g id="n167"><circle cx="1361" cy="623" r="6.5"/></g>
<g id="n168"><circle cx="1032" cy="636" r="6.5"/></g>
<g id="n169"><circle cx="1114" cy="646" r="6.5"/></g>
<g id="n170"><circle cx="921" cy="674" r="7"/></g>
<g id="n171"><circle cx="965" cy="668" r="8"/></g>
<g id="n172"><circle cx="1091" cy="683" r="6.5"/></g>
<g id="n173"><circle cx="870" cy="699" r="6.5"/></g>
<g id="n174"><circle cx="1067" cy="705" r="6.5"/></g>
<g id="n175"><circle cx="1062" cy="718" r="6.5"/></g>
<g id="n176"><circle cx="1031" cy="717" r="6.5"/></g>
<g id="n177"><circle cx="956" cy="727" r="6.5"/></g>
<g id="n178"><circle cx="1227" cy="722" r="6.5"/></g>
<g id="n179"><circle cx="1246" cy="711" r="6.5"/></g>
<g id="n180"><circle cx="1272" cy="702" r="6.5"/></g>
<g id="n181"><circle cx="829" cy="733" r="7"/></g>
<g id="n182"><circle cx="1044" cy="743" r="6.5"/></g>
<g id="n183"><circle cx="1093" cy="743" r="6.5"/></g>
<g id="n184"><circle cx="155" cy="707" r="6.5"/></g>
<g id="n185"><circle cx="178" cy="745" r="6.5"/></g>
<g id="n186"><circle cx="254" cy="752" r="6.5"/></g>
<g id="n187"><circle cx="331" cy="724" r="6.5"/></g>
<g id="n188"><circle cx="361" cy="735" r="6.5"/></g>
<g id="n189"><circle cx="402" cy="768" r="7.5"/></g>
<g id="n190"><circle cx="464" cy="757" r="7.5"/></g>
<g id="n191"><circle cx="551" cy="736" r="6.5"/></g>
<g id="n192"><circle cx="594" cy="746" r="6.5"/></g>
<g id="n194"><circle cx="652" cy="762" r="6.5"/></g>
<g id="n195"><circle cx="715" cy="739" r="6.5"/></g>
<g id="n196"><circle cx="702" cy="772" r="8"/></g>
<g id="n197"><circle cx="741" cy="761" r="6.5"/></g>
<g id="n198"><circle cx="772" cy="761" r="8"/></g>
<g id="n199"><circle cx="803" cy="765" r="6.5"/></g>
<g id="n200"><circle cx="988" cy="770" r="6.5"/></g>
<g id="n201"><circle cx="1080" cy="772" r="6.5"/></g>
<g id="n202"><circle cx="1142" cy="780" r="6.5"/></g>
<g id="n203"><circle cx="1147" cy="791" r="6.5"/></g>
<g id="n205"><circle cx="1391" cy="793" r="6.5"/></g>
<g id="n206"><circle cx="485" cy="793" r="6.5"/></g>
<g id="n207"><circle cx="546" cy="825" r="6.5"/></g>
<g id="n208"><circle cx="533" cy="835" r="6.5"/></g>
<g id="n210"><circle cx="717" cy="817" r="6.5"/></g>
<g id="n211"><circle cx="826" cy="786" r="6.5"/></g>
<g id="n212"><circle cx="808" cy="796" r="6.5"/></g>
<g id="n213"><circle cx="851" cy="791" r="6.5"/></g>
<g id="n214"><circle cx="812" cy="810" r="6.5"/></g>
<g id="n215"><circle cx="821" cy="811" r="6.5"/></g>
<g id="n216"><circle cx="838" cy="815" r="9"/></g>
<g id="n217"><circle cx="903" cy="814" r="6.5"/></g>
<g id="n218"><circle cx="903" cy="821" r="6.5"/></g>
<g id="n219"><circle cx="954" cy="819" r="9"/></g>
<g id="n220"><circle cx="934" cy="833" r="6.5"/></g>
<g id="n221"><circle cx="1225" cy="823" r="6.5"/></g>
<g id="n222"><circle cx="1347" cy="840" r="6.5"/></g>
<g id="n223"><circle cx="336" cy="850" r="6.5"/></g>
<g id="n224"><circle cx="389" cy="843" r="6.5"/></g>
<g id="n225"><circle cx="409" cy="855" r="6.5"/></g>
<g id="n226"><circle cx="426" cy="853" r="6.5"/></g>
<g id="n227"><circle cx="408" cy="866" r="6.5"/></g>
<g id="n228"><circle cx="461" cy="865" r="6.5"/></g>
<g id="n229"><circle cx="457" cy="872" r="6.5"/></g>
<g id="n230"><circle cx="548" cy="863" r="6.5"/></g>
<g id="n231"><circle cx="565" cy="874" r="6.5"/></g>
<g id="n232"><circle cx="654" cy="855" r="6.5"/></g>
<g id="n233"><circle cx="702" cy="862" r="6.5"/></g>
<g id="n234"><circle cx="604" cy="886" r="6.5"/></g>
<g id="n235"><circle cx="820" cy="855" r="7"/></g>
<g id="n236"><circle cx="862" cy="875" r="6.5"/></g>
<g id="n237"><circle cx="951" cy="881" r="6.5"/></g>
<g id="n238"><circle cx="1003" cy="883" r="7"/></g>
<g id="n239"><circle cx="1004" cy="893" r="7"/></g>
<g id="n240"><circle cx="1086" cy="867" r="7"/></g>
<g id="n241"><circle cx="1109" cy="869" r="6.5"/></g>
<g id="n243"><circle cx="1170" cy="850" r="6.5"/></g>
<g id="n244"><circle cx="1327" cy="886" r="6.5"/></g>
<g id="n245"><circle cx="202" cy="865" r="6.5"/></g>
<g id="n246"><circle cx="288" cy="863" r="6.5"/></g>
<g id="n247"><circle cx="87" cy="907" r="6.5"/></g>
<g id="n248"><circle cx="326" cy="899" r="6.5"/></g>
<g id="n249"><circle cx="441" cy="912" r="6.5"/></g>
<g id="n250"><circle cx="487" cy="895" r="6.5"/></g>
<g id="n252"><circle cx="675" cy="923" r="6.5"/></g>
<g id="n253"><circle cx="1116" cy="904" r="6.5"/></g>
<g id="n254"><circle cx="922" cy="922" r="6.5"/></g>
<g id="n255"><circle cx="1017" cy="925" r="7"/></g>
<g id="n256"><circle cx="1164" cy="959" r="6.5"/></g>
<g id="n257"><circle cx="459" cy="944" r="6.5"/></g>
<g id="n258"><circle cx="322" cy="970" r="6.5"/></g>
<g id="n259"><circle cx="393" cy="972" r="8"/></g>
<g id="n260"><circle cx="604" cy="979" r="8"/></g>
<g id="n261"><circle cx="377" cy="1002" r="6.5"/></g>
<g id="n262"><circle cx="541" cy="993" r="6.5"/></g>
<g id="n263"><circle cx="669" cy="996" r="6.5"/></g>
<g id="n264"><circle cx="465" cy="1016" r="6.5"/></g>
<g id="n265"><circle cx="723" cy="1013" r="6.5"/></g>
<g id="n266"><circle cx="493" cy="1044" r="6.5"/></g>
<g id="n267"><circle cx="514" cy="1037" r="6.5"/></g>
<g id="n268"><circle cx="529" cy="1070" r="6.5"/></g>
<g id="n269"><circle cx="685" cy="965" r="6.5"/></g>
<g id="n270"><circle cx="746" cy="982" r="8"/></g>
<g id="n271"><circle cx="764" cy="972" r="6.5"/></g>
<g id="n272"><circle cx="830" cy="962" r="7"/></g>
<g id="n273"><circle cx="819" cy="979" r="7"/></g>
<g id="n274"><circle cx="887" cy="968" r="6.5"/></g>
<g id="n275"><circle cx="833" cy="1048" r="6.5"/></g>
<g id="n276"><circle cx="645" cy="1089" r="6.5"/></g>
<g id="n277"><circle cx="853" cy="1088" r="6.5"/></g>
<g id="n278"><circle cx="980" cy="1035" r="6.5"/></g>
<g id="n279"><circle cx="1038" cy="1008" r="6.5"/></g>
<g id="n280"><circle cx="1050" cy="1057" r="6.5"/></g>
<g id="n281"><circle cx="1039" cy="1092" r="6.5"/></g>
<g id="n282"><circle cx="1183" cy="1040" r="6.5"/></g>
</g>
<g id="compounds" class="cp">
<g id="curcumin"><path d="M408 292l33 33-33 33-33-33z"/><text class="lb" x="408" y="390">Curcumin</text></g>
<g id="luteolin"><path d="M298 419.5l23.5 23.5-23.5 23.5-23.5-23.5z"/><text class="lb" x="298" y="499">Luteolin</text></g>
<g id="juglone"><path d="M549 394.5l10.5 10.5-10.5 10.5-10.5-10.5z"/><text class="lb" x="549" y="447">Juglone</text></g>
<g id="nobiletin"><path d="M663 442.5l10.5 10.5-10.5 10.5-10.5-10.5z"/><text class="lb" x="663" y="496">Nobiletin</text></g>
<g id="morin"><path d="M757 421l11 11-11 11-11-11z"/><text class="lb" x="757" y="475">Morin</text></g>
<g id="galangin"><path d="M925 331.5l11.5 11.5-11.5 11.5-11.5-11.5z"/><text class="lb" x="925" y="387">Galangin</text></g>
<g id="quercetin"><path d="M1232 338l49 49-49 49-49-49z"/><text class="lb" x="1232" y="471">Quercetin</text></g>
<g id="cpd1"><path d="M1127 389.5l10.5 10.5-10.5 10.5-10.5-10.5z"/></g>
<g id="naringenin"><path d="M970 451.5l10.5 10.5-10.5 10.5-10.5-10.5z"/><text class="lb" x="970" y="504">Naringenin</text></g>
<g id="xanthohumol"><path d="M393 513.5l10.5 10.5-10.5 10.5-10.5-10.5z"/><text class="lb" x="393" y="566">Xanthohumol</text></g>
<g id="baicalein"><path d="M703 503.5l16.5 16.5-16.5 16.5-16.5-16.5z"/><text class="lb" x="703" y="570">Baicalein</text></g>
<g id="cpd2"><path d="M636 550l11 11-11 11-11-11z"/></g>
<g id="daidzein"><path d="M843 494l14 14-14 14-14-14z"/><text class="lb" x="843" y="555">Daidzein</text></g>
<g id="cpd3"><path d="M778 555l18 18-18 18-18-18z"/></g>
<g id="cpd4"><path d="M905 564l13 13-13 13-13-13z"/></g>
<g id="chrysin"><path d="M746 583l14 14-14 14-14-14z"/><text class="lb" x="746" y="643">Chrysin</text></g>
<g id="cpd5"><path d="M829 610l16 16-16 16-16-16z"/></g>
<g id="cpd6"><path d="M825 642l18 18-18 18-18-18z"/></g>
<g id="biochaninA"><path d="M945 602l10 10-10 10-10-10z"/><text class="lb" x="945" y="653">Biochanin A</text></g>
<g id="genistein"><path d="M658 613.5l19.5 19.5-19.5 19.5-19.5-19.5z"/><text class="lb" x="658" y="686">Genistein</text></g>
<g id="cpd7"><path d="M811 685l10 10-10 10-10-10z"/></g>
<g id="rutin"><path d="M382 609.5l10.5 10.5-10.5 10.5-10.5-10.5z"/><text class="lb" x="382" y="662">Rutin</text></g>
<g id="egcg"><path d="M1289 579.5l29.5 29.5-29.5 29.5-29.5-29.5z"/><text class="lb" x="1289" y="672">(-)-Epigallocatechin gallate</text></g>
<g id="scopoletin"><path d="M918 712.5l9.5 9.5-9.5 9.5-9.5-9.5z"/><text class="lb" x="918" y="764">Scopoletin</text></g>
<g id="butein"><path d="M1163 700l10 10-10 10-10-10z"/><text class="lb" x="1163" y="752">Butein</text></g>
<g id="epicatechin"><path d="M784 865l10 10-10 10-10-10z"/><text class="lb" x="784" y="917">(-)-Epicatechin</text></g>
<g id="resveratrol"><path d="M1250 837l39 39-39 39-39-39z"/><text class="lb" x="1250" y="949">Resveratrol</text></g>
<g id="apigenin"><path d="M980 918l22 22-22 22-22-22z"/><text class="lb" x="980" y="996">Apigenin</text></g>
<g id="cpd8"><path d="M1080 512.5l8.5 8.5-8.5 8.5-8.5-8.5z" style="fill:#ffff00"/></g>
</g>
<g id="panelB" class="t">
<text x="17" y="1167" font-family="Liberation Sans,Arial,sans-serif" font-weight="bold" font-size="56" fill="#000">B</text>
<g id="kegg">
<g class="grid"><line x1="450" x2="619" y1="1213" y2="1213"/><line x1="450" x2="619" y1="1246" y2="1246"/><line x1="450" x2="619" y1="1278" y2="1278"/><line x1="450" x2="619" y1="1310" y2="1310"/><line x1="450" x2="619" y1="1343" y2="1343"/><line x1="450" x2="619" y1="1376" y2="1376"/><line x1="450" x2="619" y1="1408" y2="1408"/><line x1="450" x2="619" y1="1440" y2="1440"/><line x1="450" x2="619" y1="1473" y2="1473"/><line x1="450" x2="619" y1="1505" y2="1505"/></g>
<rect class="box" x="450" y="1198" width="169" height="322"/>
<g class="tl">
<text x="443" y="1219">Lipid and atherosclerosis</text>
<text x="443" y="1252">PI3K-Akt signaling pathway</text>
<text x="443" y="1284">MAPK signaling pathway</text>
<text x="443" y="1316">AGE-RAGE signaling pathway in diabetic complications</text>
<text x="443" y="1349">TNF signaling pathway</text>
<text x="443" y="1382">Apoptosis</text>
<text x="443" y="1414">Cellular senescence</text>
<text x="443" y="1446">Toll-like receptor signaling pathway</text>
<text x="443" y="1479">Neurotrophin signaling pathway</text>
<text x="443" y="1511">Ras signaling pathway</text>
</g>
<circle cx="590" cy="1213" r="8" fill="#fde725"/>
<circle cx="492" cy="1246" r="5.5" fill="#23898e"/>
<circle cx="497" cy="1278" r="5.5" fill="#26828e"/>
<circle cx="564" cy="1310" r="9.5" fill="#34618d"/>
<circle cx="533" cy="1343" r="8.5" fill="#3e4a89"/>
<circle cx="505" cy="1376" r="7.5" fill="#46337e"/>
<circle cx="496" cy="1408" r="7" fill="#482878"/>
<circle cx="517" cy="1440" r="8" fill="#472d7b"/>
<circle cx="496" cy="1473" r="7.5" fill="#450b5d"/>
<circle cx="477" cy="1505" r="5" fill="#440154"/>
<path d="M457 1520v4M513 1520v4M569 1520v4" stroke="#666" stroke-width="1"/>
<text class="tk" x="457" y="1537">0</text><text class="tk" x="513" y="1537">2000</text><text class="tk" x="569" y="1537">4000</text>
<text x="534" y="1554" font-size="14" font-weight="bold" text-anchor="middle" fill="#222">Combined Score</text>
<text class="sm" x="632" y="1248">% Genes</text><text class="sm" x="632" y="1258">in set</text>
<circle cx="638" cy="1277" r="5" fill="#8c8c8c"/><circle cx="638" cy="1295" r="7.5" fill="#8c8c8c"/>
<text class="sm" x="654" y="1281">0.40</text><text class="sm" x="654" y="1299">0.60</text>
<text class="sm" x="628" y="1383">log</text><text x="642" y="1386" font-size="6.5" fill="#444">10</text>
<text x="657" y="1376" font-size="6.5" fill="#444" text-anchor="middle">1</text><line x1="651" x2="663" y1="1378.5" y2="1378.5" stroke="#444" stroke-width=".7"/><text x="657" y="1386" font-size="6.5" fill="#444" font-style="italic" text-anchor="middle">Pval</text>
<rect x="630" y="1390" width="7" height="81" fill="url(#vir)"/>
<text class="sm" x="640" y="1409">80</text><text class="sm" x="640" y="1441">60</text><text class="sm" x="640" y="1472">40</text>
</g>
<g id="gobp">
<g class="grid"><line x1="1237" x2="1405" y1="1213" y2="1213"/><line x1="1237" x2="1405" y1="1246" y2="1246"/><line x1="1237" x2="1405" y1="1278" y2="1278"/><line x1="1237" x2="1405" y1="1310" y2="1310"/><line x1="1237" x2="1405" y1="1343" y2="1343"/><line x1="1237" x2="1405" y1="1376" y2="1376"/><line x1="1237" x2="1405" y1="1408" y2="1408"/><line x1="1237" x2="1405" y1="1440" y2="1440"/><line x1="1237" x2="1405" y1="1473" y2="1473"/><line x1="1237" x2="1405" y1="1505" y2="1505"/></g>
<rect class="box" x="1237" y="1198" width="168" height="322"/>
<rect x="1315" y="1196.5" width="10" height="2.5" fill="#444"/>
<g class="tr">
<text x="1229" y="1219">protein phosphorylation (GO:0006468)</text>
<text x="1229" y="1252">phosphorylation (GO:0016310)</text>
<text x="1229" y="1284">cytokine-mediated signaling pathway (GO:0019221)</text>
<text x="1229" y="1316">positive regulation of intracellular signal transduction (GO:1902533)</text>
<text x="1229" y="1349">cellular response to cytokine stimulus (GO:0071345)</text>
<text x="1229" y="1382">positive regulation of phosphorylation (GO:0042327)</text>
<text x="1229" y="1414">regulation of apoptotic process (GO:0042981)</text>
<text x="1229" y="1446">protein autophosphorylation (GO:0046777)</text>
<text x="1229" y="1479">regulation of cell population proliferation (GO:0042127)</text>
<text x="1229" y="1511">negative regulation of apoptotic process (GO:0043066)</text>
</g>
<circle cx="1375" cy="1214" r="6" fill="#fde725"/>
<circle cx="1319" cy="1246" r="6" fill="#21918c"/>
<circle cx="1284" cy="1279" r="4.5" fill="#3b528b"/>
<circle cx="1283" cy="1311" r="4.5" fill="#3b528b"/>
<circle cx="1285" cy="1343" r="4.5" fill="#3e4c8a"/>
<circle cx="1304" cy="1375" r="6.5" fill="#472f7d"/>
<circle cx="1263" cy="1408" r="3.5" fill="#482173"/>
<circle cx="1339" cy="1440" r="8" fill="#46176e"/>
<circle cx="1262" cy="1472" r="3.5" fill="#481a6c"/>
<circle cx="1266" cy="1504" r="4" fill="#440154"/>
<path d="M1283 1520v4M1330 1520v4M1378 1520v4" stroke="#666" stroke-width="1"/>
<text class="tk" x="1283" y="1537">1000</text><text class="tk" x="1330" y="1537">2000</text><text class="tk" x="1378" y="1537">3000</text>
<text x="1319" y="1554" font-size="14" font-weight="bold" text-anchor="middle" fill="#222">Combined Score</text>
<text class="sm" x="1419" y="1248">% Genes</text><text class="sm" x="1419" y="1258">in set</text>
<circle cx="1425" cy="1277" r="4" fill="#8c8c8c"/><circle cx="1425" cy="1295" r="5.5" fill="#8c8c8c"/><circle cx="1425" cy="1315" r="7" fill="#8c8c8c"/>
<text class="sm" x="1440" y="1281">0.30</text><text class="sm" x="1440" y="1299">0.40</text><text class="sm" x="1440" y="1319">0.50</text>
<text class="sm" x="1414" y="1383">log</text><text x="1428" y="1386" font-size="6.5" fill="#444">10</text>
<text x="1443" y="1376" font-size="6.5" fill="#444" text-anchor="middle">1</text><line x1="1437" x2="1449" y1="1378.5" y2="1378.5" stroke="#444" stroke-width=".7"/><text x="1443" y="1386" font-size="6.5" fill="#444" font-style="italic" text-anchor="middle">Pval</text>
<rect x="1416" y="1390" width="7" height="81" fill="url(#vir)"/>
<text class="sm" x="1426" y="1403">100</text><text class="sm" x="1426" y="1423">80</text><text class="sm" x="1426" y="1456">60</text>
</g>
<line x1="703" y1="1563" x2="1478" y2="1563" stroke="#777" stroke-width="1.5"/>
</g>
</g>
</svg>
